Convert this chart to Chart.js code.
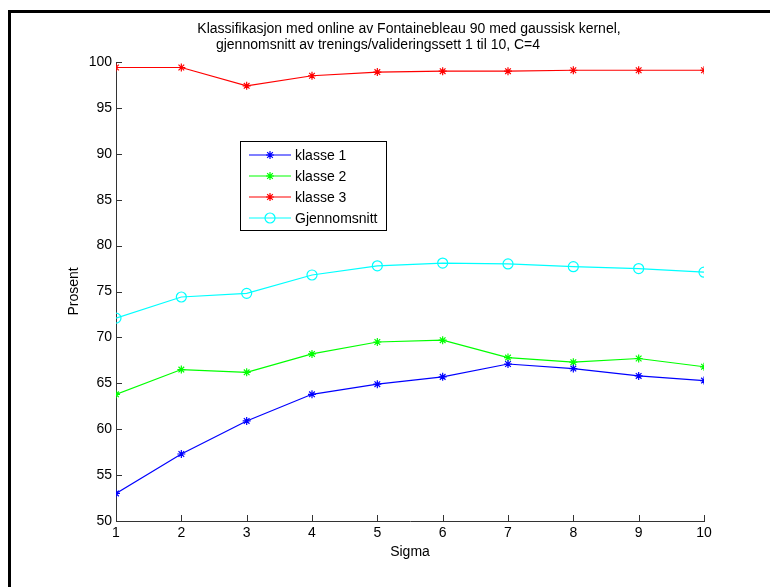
<!DOCTYPE html>
<html>
<head>
<meta charset="utf-8">
<title>Klassifikasjon</title>
<script src="https://cdn.jsdelivr.net/npm/chart.js@4/dist/chart.umd.min.js"></script>
<style>
  html, body { margin: 0; padding: 0; background: #fff; }
  #wrap { width: 770px; height: 587px; }
</style>
</head>
<body>
<div id="wrap"><canvas id="lineChart"></canvas></div>
<script>
(function () {
    "use strict";

    // data
    var sigma = [ 1, 2, 3, 4, 5, 6, 7, 8, 9, 10 ];
    var klasse1 = [ 53.0, 57.3, 60.9, 63.8, 64.9, 65.7, 67.1, 66.6, 65.8, 65.3 ];
    var klasse2 = [ 63.8, 66.5, 66.2, 68.2, 69.5, 69.7, 67.8, 67.3, 67.7, 66.8 ];
    var klasse3 = [ 99.4, 99.4, 97.4, 98.5, 98.9, 99.0, 99.0, 99.1, 99.1, 99.1 ];
    var snitt = [ 72.1, 74.4, 74.8, 76.8, 77.8, 78.1, 78.0, 77.7, 77.5, 77.1 ];
    var titleLines = [ "Klassifikasjon med online av Fontainebleau 90 med gaussisk kernel,",
                       "gjennomsnitt av trenings/valideringssett 1 til 10, C=4" ];

    var font = "'Liberation Sans', Arial, Helvetica, sans-serif";

    function pts( ys ) {
        return sigma.map( function ( s, i ) { return { x: s, y: ys[ i ] }; } );
    }

    function series( label, ys, color, style, r ) {
        return {
            label: label,
            data: pts( ys ),
            borderColor: color,
            borderWidth: 1.2,
            pointStyle: style,
            pointRadius: r,
            pointBorderColor: color,
            pointBackgroundColor: "rgba(0,0,0,0)",
            pointBorderWidth: 1.2,
            pointHoverRadius: r,
            tension: 0,
            fill: false
        };
    }

    // frame, title, inward ticks and the boxed legend
    var matlabLook = {
        id: "matlabLook",
        beforeDraw: function ( chart ) {
            var c = chart.ctx;
            c.save();
            c.fillStyle = "#fff";
            c.fillRect( 0, 0, chart.width, chart.height );
            c.strokeStyle = "#000";
            c.lineWidth = 3;
            c.strokeRect( 9.5, 11.5, chart.width + 20, chart.height + 20 );
            c.restore();
        },
        afterDraw: function ( chart ) {
            var c = chart.ctx, a = chart.chartArea;
            var xs = chart.scales.x, ys = chart.scales.y;
            c.save();

            // title
            c.fillStyle = "#000";
            c.font = "14px " + font;
            c.textBaseline = "middle";
            c.textAlign = "center";
            var mid = ( a.left + a.right ) / 2;
            c.fillText( titleLines[ 0 ], mid - 1, 29 );
            c.fillText( titleLines[ 1 ], mid - 32, 45 );

            // ticks pointing into the plot
            c.strokeStyle = "#333";
            c.lineWidth = 1;
            c.beginPath();
            xs.ticks.forEach( function ( t ) {
                var px = Math.round( xs.getPixelForValue( t.value ) ) + 0.5;
                c.moveTo( px, a.bottom );
                c.lineTo( px, a.bottom - 6 );
            } );
            ys.ticks.forEach( function ( t ) {
                var py = Math.round( ys.getPixelForValue( t.value ) ) + 0.5;
                c.moveTo( a.left, py );
                c.lineTo( a.left + 6, py );
            } );
            c.stroke();

            // legend box
            var bx = 240, by = 141, bw = 146, bh = 89, row = 21;
            c.fillStyle = "#fff";
            c.fillRect( bx, by, bw, bh );
            c.strokeStyle = "#000";
            c.lineWidth = 1;
            c.strokeRect( bx + 0.5, by + 0.5, bw, bh );
            c.textAlign = "left";
            chart.data.datasets.forEach( function ( ds, i ) {
                var yy = by + 14 + i * row;
                c.strokeStyle = ds.borderColor;
                c.lineWidth = 1.2;
                c.beginPath();
                c.moveTo( bx + 9, yy );
                c.lineTo( bx + 51, yy );
                c.stroke();
                c.fillStyle = "rgba(0,0,0,0)";
                Chart.helpers.drawPoint( c, {
                    pointStyle: ds.pointStyle,
                    radius: ds.pointRadius,
                    rotation: 0,
                    borderWidth: 1.2
                }, bx + 30, yy );
                c.fillStyle = "#000";
                c.fillText( ds.label, bx + 55, yy + 1 );
            } );
            c.restore();
        }
    };

    var ctx = document.getElementById( "lineChart" );
    var myChart = new Chart( ctx, {
        type: "line",
        data: {
            datasets: [
                series( "klasse 1", klasse1, "#0000ff", "star", 4 ),
                series( "klasse 2", klasse2, "#00ff00", "star", 4 ),
                series( "klasse 3", klasse3, "#ff0000", "star", 4 ),
                series( "Gjennomsnitt", snitt, "#00ffff", "circle", 5 )
            ]
        },
        options: {
            responsive: true,
            maintainAspectRatio: false,
            animation: false,
            devicePixelRatio: 1,
            layout: {
                padding: { left: 0, top: 62, right: 66, bottom: 0 }
            },
            plugins: {
                legend: { display: false },
                title: { display: false },
                tooltip: { enabled: false }
            },
            scales: {
                x: {
                    type: "linear",
                    min: 1,
                    max: 10,
                    afterFit: function ( s ) { s.height = 66; },
                    grid: { display: false, drawTicks: false },
                    border: { display: true, color: "#333", width: 1 },
                    ticks: {
                        stepSize: 1,
                        padding: 4,
                        maxRotation: 0,
                        color: "#000",
                        font: { family: font, size: 14 }
                    },
                    title: {
                        display: true,
                        text: "Sigma",
                        color: "#000",
                        font: { family: font, size: 14 },
                        padding: { top: 0, bottom: 26 }
                    }
                },
                y: {
                    min: 50,
                    max: 100,
                    afterFit: function ( s ) { s.width = 116; },
                    grid: { display: false, drawTicks: false },
                    border: { display: true, color: "#333", width: 1 },
                    ticks: {
                        stepSize: 5,
                        padding: 4,
                        color: "#000",
                        font: { family: font, size: 14 }
                    },
                    title: {
                        display: true,
                        text: "Prosent",
                        color: "#000",
                        font: { family: font, size: 14 },
                        padding: { top: 66, bottom: 0 }
                    }
                }
            }
        },
        plugins: [ matlabLook ]
    });
})();
</script>
</body>
</html>
